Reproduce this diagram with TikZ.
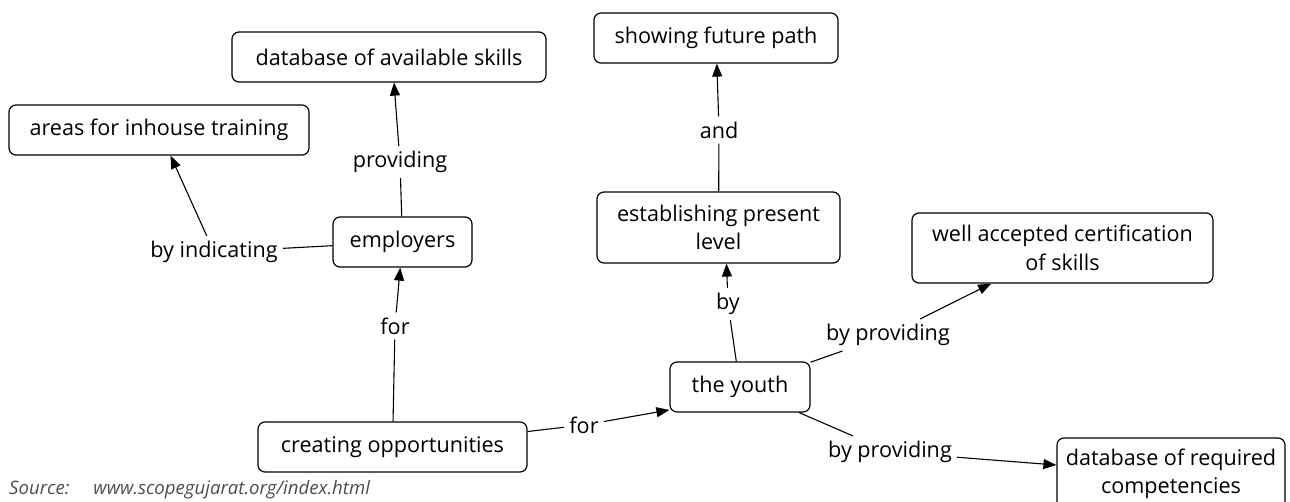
\documentclass[tikz,border=0pt]{standalone}
\usepackage{fontspec}
\setmainfont{Open Sans}
\usetikzlibrary{arrows.meta,calc}
\begin{document}
\begin{tikzpicture}[x=1pt,y=-1pt,
  txt/.style={font=\fontsize{21.6}{28.5}\selectfont},
  box/.style={txt, draw=black, line width=1.2pt, rounded corners=7pt, align=center, inner sep=0pt},
  lbl/.style={txt, inner sep=5pt},
  conn/.style={line width=1.1pt},
  arr/.style={conn, -{Triangle[length=13pt,width=10pt]}}
]
\useasboundingbox (0,0) rectangle (1290,502);
% boxes
\node[box, minimum width=314pt, minimum height=50pt] (dbskills) at (389,57) {database of available skills};
\node[box, minimum width=300pt, minimum height=50pt] (areas) at (159,130) {areas for inhouse training};
\node[box, minimum width=244pt, minimum height=50pt] (showing) at (716,38) {showing future path};
\node[box, minimum width=139pt, minimum height=50pt] (employers) at (402.5,242) {employers};
\node[box, minimum width=243pt, minimum height=71pt] (estab) at (718.5,227.5) {establishing present\\level};
\node[box, minimum width=301pt, minimum height=70pt] (cert) at (1062.5,248) {well accepted certification\\of skills};
\node[box, minimum width=140pt, minimum height=50pt] (youth) at (740,387) {the youth};
\node[box, minimum width=269pt, minimum height=50pt] (creating) at (392.5,447) {creating opportunities};
\node[box, minimum width=228pt, minimum height=72pt] (dbreq) at (1171,474) {database of required\\competencies};
% labels
\node[lbl] (prov) at (400,162) {providing};
\node[lbl] (byind) at (214,252) {by indicating};
\node[lbl] (forv) at (395,326) {for};
\node[lbl] (forh) at (584,425) {for};
\node[lbl] (and) at (719,130) {and};
\node[lbl] (by) at (728,304) {by};
\node[lbl] (bpa) at (888,335) {by providing};
\node[lbl] (bpb) at (890,452) {by providing};
% source
\node[anchor=west, inner sep=0pt, text=black!70, font=\itshape\fontsize{18.6}{20}\selectfont] (src) at (9,490) {Source:\hspace{24pt}www.scopegujarat.org/index.html};
% connectors
\draw[conn] (employers) -- (prov);
\draw[arr] (prov) -- ($(dbskills.south)+(5,0)$);
\draw[conn] (byind) -- (employers);
\draw[arr] (byind) -- (areas);
\draw[conn] (creating) -- (forv);
\draw[arr] (forv) -- (employers);
\draw[conn] (creating) -- (forh);
\draw[arr] (forh) -- (youth.198);
\draw[conn] (youth) -- (by);
\draw[arr] (by) -- ($(estab.south)+(8,0)$);
\draw[conn] (estab) -- (and);
\draw[arr] (and) -- (showing);
\draw[conn] (youth) -- (bpa);
\draw[arr] (bpa) -- (cert);
\draw[conn] (youth) -- (bpb);
\draw[arr] (bpb) -- (dbreq);
\end{tikzpicture}
\end{document}
